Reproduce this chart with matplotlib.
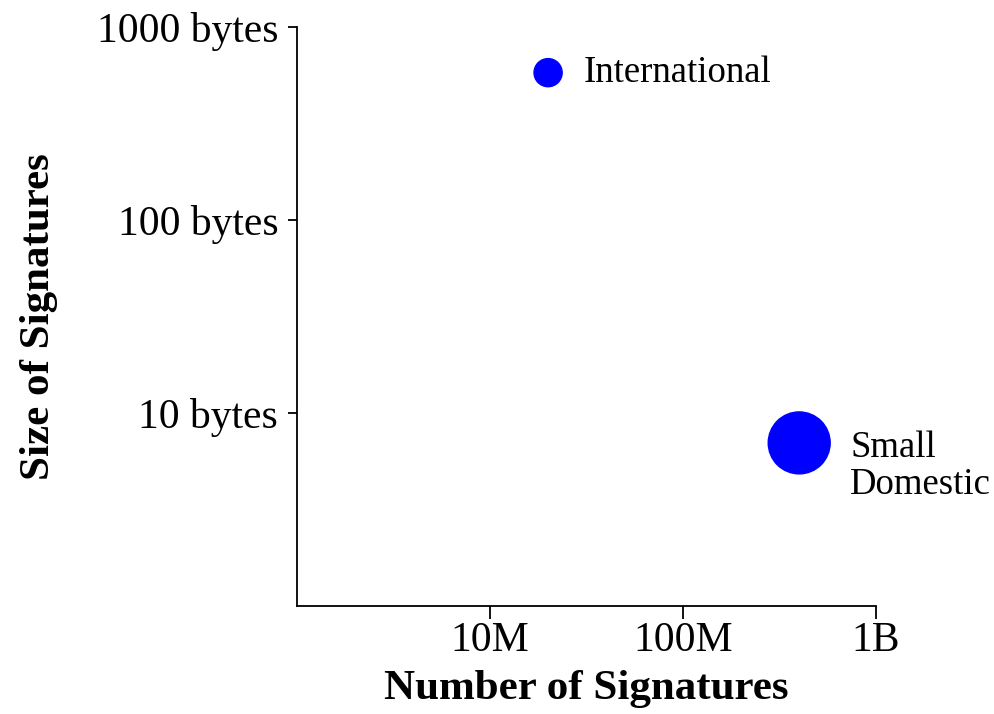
import matplotlib
matplotlib.use("Agg")
import matplotlib.pyplot as plt

# signature schemes: (count, size in bytes)
names = ["International", "Small\nDomestic"]
num_sigs = [20e6, 400e6]
sig_bytes = [580, 7]
marker_area = [410, 1990]
label_offsets = [(36, 0), (51, -23)]

xticks = [1e7, 1e8, 1e9]
xticklabels = ["10M", "100M", "1B"]
yticks = [10, 100, 1000]
yticklabels = ["10 bytes", "100 bytes", "1000 bytes"]

plt.rcParams['font.family'] = ['Liberation Serif', 'DejaVu Serif']

fig = plt.figure(figsize=(9.95, 7.14), dpi=100)
ax = fig.add_axes([297/995, 1 - 606/714, (876 - 297)/995, (606 - 27)/714])

ax.scatter(num_sigs, sig_bytes, s=marker_area, color="#0000ff", zorder=3)
for n, x, y, off in zip(names, num_sigs, sig_bytes, label_offsets):
    ax.annotate(n, (x, y), xytext=off, textcoords="offset pixels",
                ha="left", va="center", fontsize=26.5, linespacing=1.09)

ax.set_xscale("log")
ax.set_yscale("log")
ax.set_xlim(1e6, 1e9)
ax.set_ylim(1, 1000)
ax.set_xticks(xticks)
ax.set_xticklabels(xticklabels)
ax.set_yticks(yticks)
ax.set_yticklabels(yticklabels)
ax.minorticks_off()
ax.tick_params(axis="x", length=9.5, width=1.3, labelsize=30, pad=2)
ax.tick_params(axis="y", length=6.5, width=1.3, labelsize=30, pad=7)

for s in ["top", "right"]:
    ax.spines[s].set_visible(False)
for s in ["left", "bottom"]:
    ax.spines[s].set_linewidth(1.3)

ax.set_xlabel("Number of Signatures", fontsize=31, fontweight="bold", labelpad=7)
ax.set_ylabel("Size of Signatures", fontsize=31, fontweight="bold", labelpad=28)

fig.savefig("out.png", dpi=100)
